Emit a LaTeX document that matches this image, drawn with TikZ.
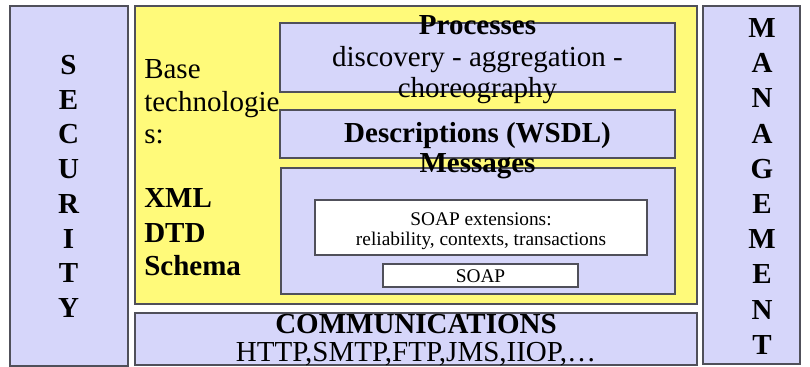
\documentclass[tikz,border=0pt]{standalone}
\usepackage{fontspec}
\setmainfont{Liberation Serif}
\definecolor{lav}{RGB}{214,214,250}
\definecolor{yel}{RGB}{255,250,122}
\definecolor{edge}{RGB}{80,80,90}
\begin{document}
\begin{tikzpicture}[x=0.75pt,y=-0.75pt,
  box/.style={draw=edge,line width=0.9pt},
  big/.style={font=\fontsize{21.75}{26}\selectfont,inner sep=0pt,anchor=base},
  bigb/.style={font=\bfseries\fontsize{21.75}{26}\selectfont,inner sep=0pt,anchor=base},
  bigl/.style={big,anchor=base west},
  bigbl/.style={bigb,anchor=base west},
  small/.style={font=\fontsize{14.5}{17}\selectfont,inner sep=0pt,anchor=base}]
\useasboundingbox (0,0) rectangle (810,367);
\fill[white] (0,0) rectangle (810,367);
% outer columns and layers
\path[box,fill=lav] (10,6) rectangle (128,366);
\path[box,fill=lav] (703,6) rectangle (800,364);
\path[box,fill=yel] (135,6) rectangle (697,304);
\path[box,fill=lav] (135,313) rectangle (697,365);
% inner layers
\path[box,fill=lav] (280,23) rectangle (675,92);
\path[box,fill=lav] (280,110) rectangle (675,158);
\path[box,fill=lav] (281,168) rectangle (675,294);
\path[box,fill=white] (315,200) rectangle (647,255);
\path[box,fill=white] (383,264) rectangle (578,287);
% SECURITY
\foreach \L [count=\i from 0] in {S,E,C,U,R,I,T,Y}
  \node[bigb] (sec\i) at (68.5,74.5+34.7*\i) {\L};
% MANAGEMENT
\foreach \L [count=\i from 0] in {M,A,N,A,G,E,M,E,N,T}
  \node[bigb] (man\i) at (762,37.5+35.2*\i) {\L};
% Base technologies
\node[bigl] (base1) at (144,79) {Base};
\node[bigl] (base2) at (144,111.5) {technologie};
\node[bigl] (base3) at (144,144) {s:};
\node[bigbl] (xml) at (144,208) {XML};
\node[bigbl] (dtd) at (144,242) {DTD};
\node[bigbl] (schema) at (144,275) {Schema};
% Processes
\node[bigb] (proc) at (477.5,35) {Processes};
\node[big] (proc2) at (477.5,67) {discovery - aggregation -};
\node[big] (proc3) at (477.5,98) {choreography};
% Descriptions
\node[bigb] (desc) at (477.5,143) {Descriptions (WSDL)};
% Messages
\node[bigb] (msg) at (477.5,173) {Messages};
\node[small] (ext1) at (481,225) {SOAP extensions:};
\node[small] (ext2) at (481,245) {reliability, contexts, transactions};
\node[small] (soap) at (480.5,282) {SOAP};
% Communications
\node[bigb] (comm) at (416,333) {COMMUNICATIONS};
\node[big] (comm2) at (416,361) {HTTP,SMTP,FTP,JMS,IIOP,\dots};
\end{tikzpicture}
\end{document}
